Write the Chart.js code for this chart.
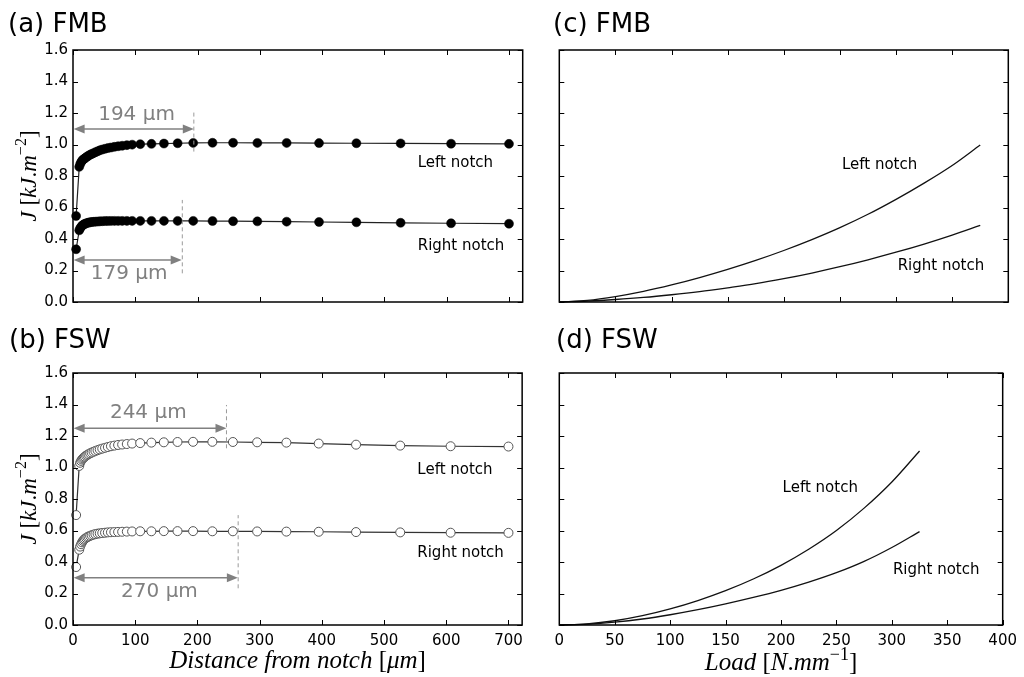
<!DOCTYPE html>
<html><head><meta charset="utf-8">
<script src="https://cdn.jsdelivr.net/npm/chart.js@4.4.0/dist/chart.umd.min.js"></script>
<style>
body{margin:0;background:#fff;width:1024px;height:677px;overflow:hidden;position:relative}
.p{position:absolute}
canvas{display:block}
</style></head><body>
<div class="p" style="left:0;top:0"><canvas id="ca" width="530" height="320"></canvas></div>
<div class="p" style="left:0;top:320px"><canvas id="cb" width="530" height="357"></canvas></div>
<div class="p" style="left:530px;top:0"><canvas id="cc" width="494" height="320"></canvas></div>
<div class="p" style="left:530px;top:320px"><canvas id="cd" width="494" height="357"></canvas></div>
<script>
// ---------- data ----------
const distance = [5, 10, 11.5, 13, 14.5, 16, 17.5, 19, 21, 23, 25, 27.5, 30, 33, 36, 39.5, 43, 47, 51.5, 56, 61, 66.5, 72.5, 79, 86.5, 95, 108, 126, 146, 168, 193, 224, 257, 296, 343, 395, 455, 526, 607, 700];
const fmbLeft = [0.546, 0.858, 0.875, 0.888, 0.897, 0.903, 0.908, 0.912, 0.918, 0.924, 0.929, 0.935, 0.940, 0.945, 0.951, 0.957, 0.963, 0.968, 0.973, 0.977, 0.981, 0.985, 0.989, 0.992, 0.996, 0.999, 1.002, 1.004, 1.006, 1.008, 1.010, 1.011, 1.011, 1.010, 1.010, 1.009, 1.008, 1.007, 1.005, 1.004];
const fmbRight = [0.335, 0.455, 0.468, 0.477, 0.484, 0.489, 0.493, 0.496, 0.499, 0.502, 0.504, 0.506, 0.508, 0.509, 0.510, 0.511, 0.512, 0.513, 0.514, 0.514, 0.515, 0.515, 0.515, 0.515, 0.515, 0.515, 0.515, 0.515, 0.515, 0.515, 0.515, 0.514, 0.513, 0.512, 0.510, 0.508, 0.506, 0.503, 0.500, 0.497];
const fswLeft = [0.698, 1.010, 1.030, 1.042, 1.051, 1.058, 1.064, 1.069, 1.075, 1.080, 1.085, 1.090, 1.095, 1.100, 1.105, 1.110, 1.115, 1.120, 1.125, 1.130, 1.135, 1.139, 1.143, 1.146, 1.149, 1.152, 1.155, 1.158, 1.160, 1.162, 1.163, 1.163, 1.162, 1.160, 1.158, 1.152, 1.145, 1.139, 1.135, 1.133];
const fswRight = [0.368, 0.478, 0.498, 0.513, 0.525, 0.534, 0.541, 0.547, 0.553, 0.558, 0.562, 0.566, 0.570, 0.574, 0.577, 0.580, 0.582, 0.584, 0.586, 0.588, 0.589, 0.590, 0.591, 0.592, 0.593, 0.594, 0.595, 0.595, 0.596, 0.596, 0.596, 0.595, 0.595, 0.594, 0.593, 0.592, 0.590, 0.588, 0.586, 0.585];

const loadFMB = [0, 25, 50, 75, 100, 125, 150, 175, 200, 225, 250, 275, 300, 325, 350, 375];
const jFMBLeft = [0, 0.010, 0.034, 0.067, 0.108, 0.155, 0.207, 0.264, 0.327, 0.396, 0.472, 0.557, 0.652, 0.755, 0.867, 0.997];
const jFMBRight = [0, 0.006, 0.016, 0.029, 0.046, 0.066, 0.090, 0.116, 0.148, 0.184, 0.224, 0.268, 0.316, 0.368, 0.425, 0.487];
const loadFSW = [0, 25, 50, 75, 100, 125, 150, 175, 200, 225, 250, 275, 300, 325];
const jFSWLeft = [0, 0.007, 0.027, 0.059, 0.102, 0.155, 0.218, 0.292, 0.379, 0.481, 0.600, 0.742, 0.908, 1.105];
const jFSWRight = [0, 0.005, 0.018, 0.038, 0.065, 0.097, 0.134, 0.175, 0.220, 0.272, 0.332, 0.404, 0.492, 0.593];

const jTicks = [0, 0.2, 0.4, 0.6, 0.8, 1.0, 1.2, 1.4, 1.6];
const distanceTicks = [0, 100, 200, 300, 400, 500, 600, 700];
const loadTicks = [0, 50, 100, 150, 200, 250, 300, 350, 400];

const panelTitles = ['(a) FMB', '(b) FSW', '(c) FMB', '(d) FSW'];
const seriesNames = ['Left notch', 'Right notch'];

// ---------- helpers ----------
const SANS = '"DejaVu Sans", sans-serif';
function serif(style, size) { return style + ' ' + size + 'px "Liberation Serif", serif'; }

function drawRich(ctx, segs, x, y, rotate, size) {
  ctx.save();
  ctx.translate(x, y);
  if (rotate) ctx.rotate(-Math.PI / 2);
  let w = 0;
  const fontOf = s => s.sup ? serif('normal', Math.round(size * 0.7)) : serif(s.it ? 'italic' : 'normal', size);
  segs.forEach(s => { ctx.font = fontOf(s); s.w = ctx.measureText(s.t).width; w += s.w; });
  let cx = -w / 2;
  ctx.textBaseline = 'alphabetic'; ctx.textAlign = 'left'; ctx.fillStyle = '#000';
  segs.forEach(s => { ctx.font = fontOf(s); ctx.fillText(s.t, cx, s.sup ? -size * 0.42 : 0); cx += s.w; });
  ctx.restore();
}
const yLabelSegs = [
  {t: 'J', it: 1}, {t: ' ['}, {t: 'kJ', it: 1}, {t: '.'}, {t: 'm', it: 1}, {t: '\u22122', sup: 1}, {t: ']'}
];
const distLabelSegs = [
  {t: 'Distance from notch', it: 1}, {t: ' ['}, {t: '\u03bcm', it: 1}, {t: ']'}
];
const loadLabelSegs = [
  {t: 'Load', it: 1}, {t: ' ['}, {t: 'N', it: 1}, {t: '.'}, {t: 'mm', it: 1}, {t: '\u22121', sup: 1}, {t: ']'}
];

function arrowHead(ctx, tipX, y, dir) {
  ctx.beginPath();
  ctx.moveTo(tipX, y);
  ctx.lineTo(tipX - dir * 11, y - 4.5);
  ctx.lineTo(tipX - dir * 11, y + 4.5);
  ctx.closePath(); ctx.fill();
}

function makePlugin(cfg) {
  return {
    id: 'deco',
    afterDatasetsDraw(chart) {
      const {ctx, chartArea: a, scales: {x, y}} = chart;
      ctx.save();
      // inward ticks on all sides
      ctx.strokeStyle = '#000'; ctx.lineWidth = 1;
      ctx.beginPath();
      x.ticks.forEach(t => {
        const px = Math.round(x.getPixelForValue(t.value)) + 0.5;
        ctx.moveTo(px, a.bottom); ctx.lineTo(px, a.bottom - 5);
        ctx.moveTo(px, a.top); ctx.lineTo(px, a.top + 5);
      });
      y.ticks.forEach(t => {
        const py = Math.round(y.getPixelForValue(t.value)) + 0.5;
        ctx.moveTo(a.left, py); ctx.lineTo(a.left + 5, py);
        ctx.moveTo(a.right, py); ctx.lineTo(a.right - 5, py);
      });
      ctx.stroke();
      ctx.lineWidth = 1.5;
      ctx.strokeRect(a.left, a.top, a.right - a.left, a.bottom - a.top);

      // dashed markers
      ctx.strokeStyle = '#9a9a9a'; ctx.lineWidth = 1; ctx.setLineDash([4, 3]);
      (cfg.dashes || []).forEach(d => {
        const px = x.getPixelForValue(d.x);
        ctx.beginPath(); ctx.moveTo(px, y.getPixelForValue(d.y1)); ctx.lineTo(px, y.getPixelForValue(d.y2)); ctx.stroke();
      });
      ctx.setLineDash([]);
      // arrows
      ctx.strokeStyle = '#808080'; ctx.fillStyle = '#808080'; ctx.lineWidth = 1.5;
      (cfg.arrows || []).forEach(r => {
        const p1 = x.getPixelForValue(r.x1), p2 = x.getPixelForValue(r.x2), py = y.getPixelForValue(r.y);
        ctx.beginPath(); ctx.moveTo(p1 + 6, py); ctx.lineTo(p2 - 6, py); ctx.stroke();
        arrowHead(ctx, p1, py, -1); arrowHead(ctx, p2, py, 1);
      });
      ctx.font = '20px ' + SANS; ctx.textAlign = 'center'; ctx.textBaseline = 'alphabetic';
      (cfg.gtexts || []).forEach(g => ctx.fillText(g.t, x.getPixelForValue(g.x), y.getPixelForValue(g.y)));
      // series labels
      ctx.fillStyle = '#000'; ctx.font = '15px ' + SANS; ctx.textBaseline = 'middle';
      (cfg.labels || []).forEach(g => ctx.fillText(g.t, x.getPixelForValue(g.x), y.getPixelForValue(g.y)));
      // title
      ctx.font = '26px ' + SANS; ctx.textAlign = 'left'; ctx.textBaseline = 'alphabetic';
      ctx.fillText(cfg.title, cfg.tx, cfg.ty);
      if (cfg.ylabel) drawRich(ctx, yLabelSegs, 36, (a.top + a.bottom) / 2, true, 23);
      if (cfg.xlabel) drawRich(ctx, cfg.xlabel, (a.left + a.right) / 2, cfg.xly, false, 25);
      ctx.restore();
    }
  };
}

function markerSet(data, open) {
  return {
    data: distance.map((d, i) => ({x: d, y: data[i]})),
    borderColor: open ? '#333' : '#222', borderWidth: 1.2,
    pointRadius: 4.5, pointHoverRadius: 4.5,
    pointBackgroundColor: open ? '#fff' : '#000',
    pointBorderColor: open ? '#555' : '#000',
    pointBorderWidth: open ? 1 : 0.5,
    tension: 0, clip: false
  };
}
function curveSet(xs, ys) {
  return {
    data: xs.map((d, i) => ({x: d, y: ys[i]})),
    borderColor: '#111', borderWidth: 1.3, pointRadius: 0,
    tension: 0.4, cubicInterpolationMode: 'monotone', clip: false
  };
}

function makeChart(id, datasets, o) {
  new Chart(document.getElementById(id), {
    type: 'line',
    data: {datasets},
    options: {
      responsive: false, animation: false, devicePixelRatio: 1,
      layout: {padding: {left: 0, top: o.top, right: o.right, bottom: 0}},
      plugins: {legend: {display: false}, tooltip: {enabled: false}},
      scales: {
        x: {
          type: 'linear', min: 0, max: o.xmax,
          afterBuildTicks: s => { s.ticks = o.xticks.map(v => ({value: v})); },
          afterFit: s => { s.height = o.xh; },
          grid: {display: false, drawTicks: false}, border: {display: false},
          ticks: {display: o.xlabels, padding: 7, font: {family: SANS, size: 15}, color: '#000', maxRotation: 0, includeBounds: false}
        },
        y: {
          type: 'linear', min: 0, max: 1.6,
          afterBuildTicks: s => { s.ticks = jTicks.map(v => ({value: v})); },
          afterFit: s => { s.width = o.yw; },
          grid: {display: false, drawTicks: false}, border: {display: false},
          ticks: {display: o.ylabels, padding: 5, font: {family: SANS, size: 15}, color: '#000', callback: v => v.toFixed(1)}
        }
      }
    },
    plugins: [makePlugin(o.deco)]
  });
}

makeChart('ca', [markerSet(fmbLeft, false), markerSet(fmbRight, false)], {
  top: 50, right: 7.3, xh: 18, yw: 73, xmax: 722, xticks: distanceTicks, xlabels: false, ylabels: true,
  deco: {
    title: panelTitles[0], tx: 8, ty: 32, ylabel: true,
    arrows: [{y: 1.098, x1: 1, x2: 194}, {y: 0.267, x1: 1, x2: 174.5}],
    dashes: [{x: 194, y1: 0.955, y2: 1.22}, {x: 175.5, y1: 0.182, y2: 0.648}],
    gtexts: [{t: '194 \u00b5m', x: 102, y: 1.156}, {t: '179 \u00b5m', x: 90, y: 0.144}],
    labels: [{t: seriesNames[0], x: 614, y: 0.879}, {t: seriesNames[1], x: 623, y: 0.352}]
  }
});
makeChart('cb', [markerSet(fswLeft, true), markerSet(fswRight, true)], {
  top: 53, right: 7.3, xh: 52, yw: 73, xmax: 722, xticks: distanceTicks, xlabels: true, ylabels: true,
  deco: {
    title: panelTitles[1], tx: 9, ty: 28, ylabel: true, xlabel: distLabelSegs, xly: 348,
    arrows: [{y: 1.249, x1: 1, x2: 246.7}, {y: 0.30, x1: 1, x2: 265}],
    dashes: [{x: 246.7, y1: 1.122, y2: 1.397}, {x: 265.5, y1: 0.233, y2: 0.698}],
    gtexts: [{t: '244 \u00b5m', x: 121, y: 1.316}, {t: '270 \u00b5m', x: 139, y: 0.18}],
    labels: [{t: seriesNames[0], x: 614, y: 0.984}, {t: seriesNames[1], x: 623, y: 0.454}]
  }
});
makeChart('cc', [curveSet(loadFMB, jFMBLeft), curveSet(loadFMB, jFMBRight)], {
  top: 50, right: 15.7, xh: 18, yw: 29.3, xmax: 400, xticks: loadTicks, xlabels: false, ylabels: false,
  deco: {
    title: panelTitles[2], tx: 23, ty: 32,
    labels: [{t: seriesNames[0], x: 285.3, y: 0.870}, {t: seriesNames[1], x: 340, y: 0.229}]
  }
});
makeChart('cd', [curveSet(loadFSW, jFSWLeft), curveSet(loadFSW, jFSWRight)], {
  top: 53, right: 15.7, xh: 52, yw: 29.3, xmax: 400, xticks: loadTicks, xlabels: true, ylabels: false,
  deco: {
    title: panelTitles[3], tx: 26, ty: 28, xlabel: loadLabelSegs, xly: 350,
    labels: [{t: seriesNames[0], x: 235.4, y: 0.867}, {t: seriesNames[1], x: 340, y: 0.349}]
  }
});
</script>
</body></html>
